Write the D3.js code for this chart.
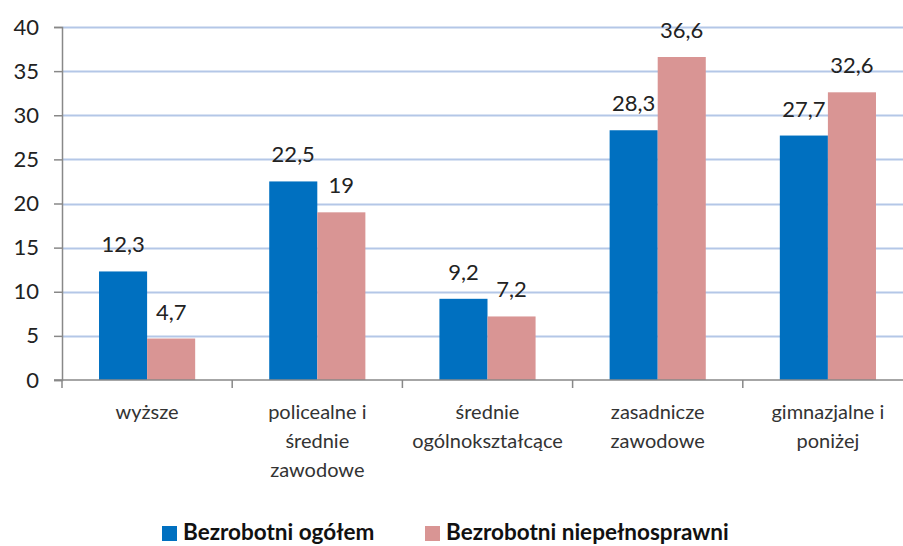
<!DOCTYPE html>
<html>
<head>
<meta charset="utf-8">
<script src="https://cdn.jsdelivr.net/npm/d3@7"></script>
<style>
  body { margin: 0; background: #fff; }
  svg { display: block; font-family: Lato, "Open Sans", sans-serif; }
</style>
</head>
<body>
<div id="chart"></div>
<script>
// dane z wykresu
const kategorie = [
    ["wyższe"],
    ["policealne i", "średnie", "zawodowe"],
    ["średnie", "ogólnokształcące"],
    ["zasadnicze", "zawodowe"],
    ["gimnazjalne i", "poniżej"]
];
const serie = ["Bezrobotni ogółem", "Bezrobotni niepełnosprawni"];
const ogolem = [12.3, 22.5, 9.2, 28.3, 27.7];
const niepelnosprawni = [4.7, 19, 7.2, 36.6, 32.6];
const yTicks = [0, 5, 10, 15, 20, 25, 30, 35, 40];
const kolory = ["#0070C0", "#D99594"];

const width = 903, height = 546;
const margin = { left: 62, top: 27, right: -10, bottom: 166 };

const svg = d3.select("#chart").append("svg")
    .attr("width", width)
    .attr("height", height);

const x = d3.scaleBand()
    .domain(d3.range(kategorie.length))
    .range([margin.left, width - margin.right]);

const y = d3.scaleLinear()
    .domain([0, 40])
    .range([height - margin.bottom, margin.top]);

// dwa słupki w grupie, reszta to odstęp
const x1 = d3.scaleBand()
    .domain([0, 1])
    .range([0, x.bandwidth()])
    .paddingInner(0)
    .paddingOuter(0.77);

// linie siatki
svg.append("g")
    .selectAll("line")
    .data(yTicks.filter(d => d > 0))
    .enter().append("line")
    .attr("x1", margin.left)
    .attr("x2", width)
    .attr("y1", d => Math.round(y(d)) + 0.5)
    .attr("y2", d => Math.round(y(d)) + 0.5)
    .attr("stroke", "#B4C7E7")
    .attr("stroke-width", 2);

// słupki
const dane = kategorie.map((k, i) => [ogolem[i], niepelnosprawni[i]]);
const grupa = svg.append("g")
    .selectAll("g")
    .data(dane)
    .enter().append("g")
    .attr("transform", (d, i) => `translate(${x(i)},0)`);

grupa.selectAll("rect")
    .data(d => d)
    .enter().append("rect")
    .attr("x", (d, j) => x1(j))
    .attr("width", x1.bandwidth())
    .attr("y", d => y(d))
    .attr("height", d => y(0) - y(d))
    .attr("fill", (d, j) => kolory[j]);

// etykiety wartości
grupa.selectAll("text")
    .data(d => d)
    .enter().append("text")
    .attr("x", (d, j) => x1(j) + x1.bandwidth() / 2)
    .attr("y", d => y(d) - 19)
    .attr("text-anchor", "middle")
    .attr("font-size", 22)
    .attr("fill", "#222")
    .text(d => String(d).replace(".", ","));

// oś Y
const osY = svg.append("g")
    .attr("transform", `translate(${margin.left},0)`)
    .call(d3.axisLeft(y).tickValues(yTicks).tickSize(8).tickPadding(15));
osY.select(".domain").attr("stroke", "#888").attr("stroke-width", 1.5);
osY.selectAll(".tick line").attr("stroke", "#888").attr("stroke-width", 1.5);
osY.selectAll("text").attr("font-size", 22).attr("fill", "#222").attr("font-family", "Lato, sans-serif");

// oś X
const osX = svg.append("g")
    .attr("transform", `translate(0,${y(0)})`);
osX.append("line")
    .attr("x1", margin.left - 8).attr("x2", width)
    .attr("stroke", "#888").attr("stroke-width", 1.5);
osX.selectAll(".tk")
    .data(d3.range(kategorie.length))
    .enter().append("line")
    .attr("class", "tk")
    .attr("x1", i => x(i)).attr("x2", i => x(i))
    .attr("y1", 0).attr("y2", 8)
    .attr("stroke", "#888").attr("stroke-width", 1.5);

const etykiety = osX.selectAll(".cat")
    .data(kategorie)
    .enter().append("text")
    .attr("class", "cat")
    .attr("text-anchor", "middle")
    .attr("font-size", 20)
    .attr("fill", "#333")
    .attr("transform", (d, i) => `translate(${x(i) + x.bandwidth() / 2},39)`);
etykiety.selectAll("tspan")
    .data(d => d)
    .enter().append("tspan")
    .attr("x", 0)
    .attr("y", (d, k) => k * 29)
    .text(d => d);

// legenda
const legenda = svg.append("g").attr("transform", "translate(0,533)");
const legX = [162, 425];
serie.forEach((s, j) => {
    legenda.append("rect")
        .attr("x", legX[j]).attr("y", -7)
        .attr("width", 15).attr("height", 15)
        .attr("fill", kolory[j]);
    legenda.append("text")
        .attr("x", legX[j] + 21).attr("y", 7)
        .attr("font-size", 22.5)
        .attr("font-weight", "bold")
        .attr("fill", "#111")
        .text(s);
});
</script>
</body>
</html>
